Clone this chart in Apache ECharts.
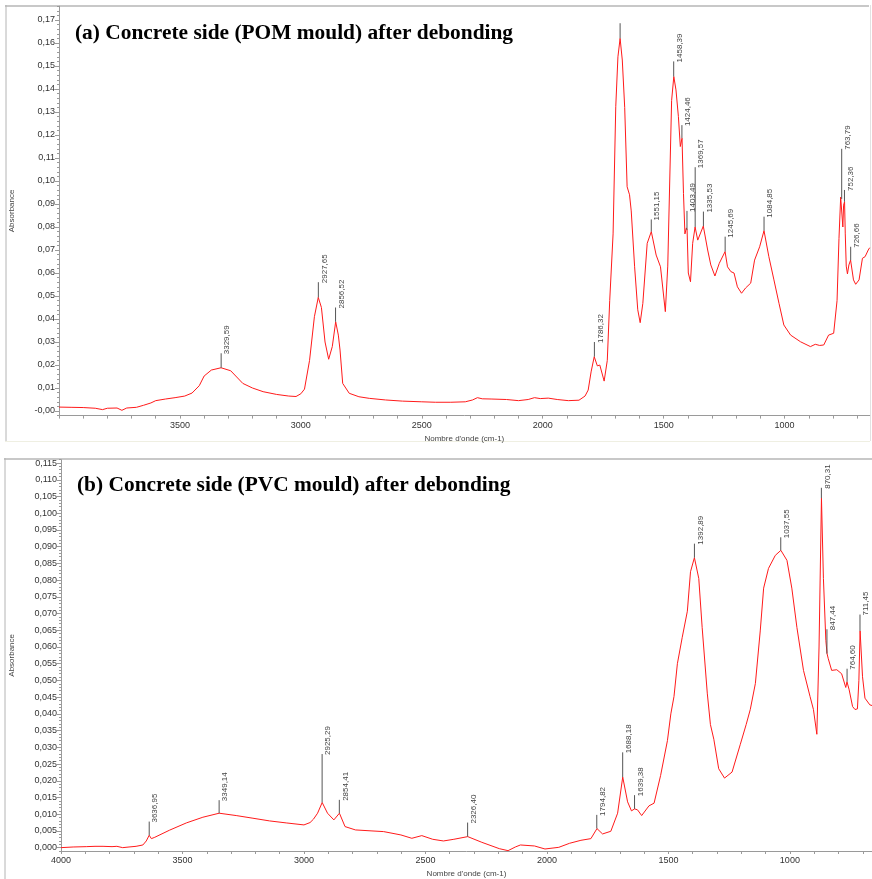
<!DOCTYPE html>
<html>
<head>
<meta charset="utf-8">
<script src="https://cdn.jsdelivr.net/npm/echarts@6/dist/echarts.min.js"></script>
<style>html,body{margin:0;padding:0;background:#fff;}#c{width:872px;height:879px;}</style>
</head>
<body>
<div id="c"></div>
<script>
// ---------- Panel (a): POM mould ----------
const topTitle = "(a) Concrete side (POM mould) after debonding";
const topWn = [4000,3950,3900,3850,3820,3800,3760,3740,3720,3680,3650,3620,3600,3560,3520,3480,3450,3420,3400,3370,3330,3290,3240,3200,3156,3100,3050,3020,3000,2985,2964,2944,2928,2915,2900,2885,2870,2856,2845,2838,2827,2800,2760,2717,2650,2580,2500,2444,2380,2320,2290,2270,2250,2210,2150,2100,2060,2034,2010,1977,1940,1894,1850,1825,1812,1800,1787,1774,1764,1746,1733,1723,1709,1698,1689,1680,1671,1661,1651,1641,1634,1620,1607,1597,1586,1568,1551,1531,1513,1493,1483,1477,1467,1458,1449,1439,1431,1424,1418,1412,1406,1403,1398,1389,1380,1370,1359,1352,1336,1318,1305,1288,1270,1246,1236,1222,1209,1195,1178,1161,1140,1124,1103,1085,1065,1044,1023,1003,975,934,893,873,855,838,818,797,783,775,768,764,759,756,752,749,745,740,734,727,715,706,692,678,667,654,648];
const topAbs = [0.0017,0.0016,0.0015,0.0012,0.0006,0.0012,0.0013,0.0003,0.0013,0.0016,0.0025,0.0035,0.0045,0.0052,0.0058,0.0065,0.0078,0.011,0.0152,0.0178,0.0188,0.0175,0.012,0.0100,0.0084,0.0072,0.0065,0.0063,0.0075,0.0095,0.022,0.041,0.0494,0.045,0.030,0.0225,0.028,0.0388,0.033,0.0265,0.012,0.0077,0.0062,0.0055,0.0048,0.0043,0.0040,0.0038,0.0038,0.0040,0.0048,0.0058,0.0053,0.0052,0.0050,0.0045,0.0050,0.0058,0.0054,0.0056,0.0050,0.0045,0.0047,0.0065,0.0091,0.017,0.0236,0.0196,0.0200,0.0130,0.022,0.048,0.077,0.1323,0.154,0.162,0.1526,0.132,0.0975,0.094,0.087,0.0627,0.044,0.0384,0.0468,0.0729,0.078,0.0678,0.0627,0.0432,0.063,0.09,0.135,0.1454,0.1396,0.128,0.115,0.1186,0.0946,0.077,0.0796,0.0787,0.060,0.0562,0.0729,0.080,0.0743,0.0736,0.0804,0.070,0.0635,0.0587,0.0642,0.0693,0.0627,0.0606,0.060,0.054,0.0512,0.0535,0.0556,0.0656,0.0714,0.0784,0.0671,0.057,0.0468,0.0374,0.033,0.0301,0.028,0.029,0.0285,0.0287,0.033,0.0338,0.048,0.075,0.093,0.0922,0.080,0.0895,0.091,0.077,0.063,0.0596,0.0635,0.0656,0.057,0.0551,0.057,0.0664,0.0671,0.070,0.071];
const topPeakWn    = [3329.59,2927.65,2856.52,1786.32,1680,1551.15,1458.39,1424.46,1403.49,1369.57,1335.53,1245.69,1084.85,763.79,752.36,726.66];
const topPeakAbs   = [0.0188,0.0494,0.0388,0.0236,0.162,0.078,0.1454,0.1186,0.0787,0.080,0.0804,0.0693,0.0784,0.0922,0.091,0.0656];
const topPeakTop   = [0.0251,0.056,0.045,0.030,0.1686,0.0833,0.152,0.1243,0.087,0.106,0.0867,0.0758,0.0845,0.114,0.0961,0.0714];
const topPeakLabel = ["3329,59","2927,65","2856,52","1786,32","","1551,15","1458,39","1424,46","1403,49","1369,57","1335,53","1245,69","1084,85","763,79","752,36","726,66"];
const topYTicks = [0,0.01,0.02,0.03,0.04,0.05,0.06,0.07,0.08,0.09,0.10,0.11,0.12,0.13,0.14,0.15,0.16,0.17];
const topXTicks = [1000,1500,2000,2500,3000,3500];

// ---------- Panel (b): PVC mould ----------
const botTitle = "(b) Concrete side (PVC mould) after debonding";
const botWn = [4000,3950,3896,3860,3827,3790,3770,3746,3720,3691,3663,3649,3637,3628,3614,3554,3484,3416,3349,3279,3210,3142,3073,3000,2975,2961,2944,2925,2903,2877,2854,2831,2788,2720,2672,2601,2556,2515,2470,2426,2383,2326,2268,2196,2160,2130,2109,2051,2008,1951,1907,1860,1819,1794,1771,1737,1709,1688,1668,1652,1639,1627,1610,1580,1559,1532,1504,1490,1477,1463,1443,1422,1409,1393,1375,1361,1340,1327,1313,1293,1269,1238,1204,1180,1163,1142,1122,1108,1088,1060,1037,1012,992,971,944,917,903,889,880,870,862,852,847,842,828,807,787,770,765,756,742,732,722,716,711,701,691,671,662];
const botAbs = [0.0000,0.0002,0.0003,0.0004,0.0004,0.0003,0.0004,0.0000,0.0002,0.0004,0.0008,0.0020,0.0037,0.0027,0.0031,0.0052,0.0074,0.0091,0.0103,0.0096,0.0088,0.0080,0.0074,0.0068,0.0075,0.0085,0.0103,0.0135,0.0103,0.0083,0.0103,0.0063,0.0053,0.0050,0.0048,0.0038,0.0028,0.0036,0.0025,0.0020,0.0025,0.0033,0.0016,-0.0003,-0.0009,0.0002,0.0008,0.0005,-0.0004,0.0001,0.0013,0.0022,0.0027,0.0057,0.0041,0.0049,0.0103,0.0211,0.0137,0.0110,0.0116,0.0113,0.0096,0.0125,0.0133,0.0216,0.032,0.040,0.0452,0.055,0.0629,0.0707,0.0825,0.0867,0.0805,0.0658,0.0462,0.0368,0.0324,0.0236,0.0208,0.0226,0.0309,0.0368,0.0413,0.0491,0.0648,0.0776,0.0835,0.0874,0.0889,0.0859,0.0776,0.0658,0.053,0.0452,0.0413,0.0339,0.060,0.1045,0.0805,0.062,0.058,0.0565,0.053,0.0532,0.052,0.0479,0.0496,0.0472,0.0422,0.0413,0.0415,0.050,0.0648,0.0511,0.0447,0.0427,0.0425];
const botPeakWn    = [3636.95,3349.14,2925.29,2854.41,2326.40,1794.82,1688.18,1639.38,1392.89,1037.55,870.31,847.44,764.60,711.45];
const botPeakAbs   = [0.0037,0.0103,0.0135,0.0103,0.0033,0.0057,0.0211,0.0116,0.0867,0.0889,0.1045,0.058,0.0496,0.0648];
const botPeakTop   = [0.0078,0.0142,0.028,0.0143,0.0075,0.0098,0.0285,0.0157,0.0909,0.0928,0.1076,0.0653,0.0535,0.0697];
const botPeakLabel = ["3636,95","3349,14","2925,29","2854,41","2326,40","1794,82","1688,18","1639,38","1392,89","1037,55","870,31","847,44","764,60","711,45"];
const botYTicks = [0,0.005,0.010,0.015,0.020,0.025,0.030,0.035,0.040,0.045,0.050,0.055,0.060,0.065,0.070,0.075,0.080,0.085,0.090,0.095,0.100,0.105,0.110,0.115];
const botXTicks = [1000,1500,2000,2500,3000,3500,4000];

// ---------- helpers ----------
function range(a, b, s) { const r = []; const n = Math.round((b - a) / s); for (let i = 0; i <= n; i++) r.push(+(a + i * s).toFixed(6)); return r; }
const FONT = 'Liberation Sans';
const topYMinor = range(-0.002, 0.176, 0.002);
const botYMinor = range(-0.001, 0.116, 0.001);
const topXMinor = range(700, 4000, 100);
const botXMinor = range(700, 4000, 100);

function xAxisCfg(grid, min, ticks, minor) {
  return {
    gridIndex: grid, type: 'value', inverse: true, min: min, max: 4000, position: 'bottom',
    axisLine: { show: true, onZero: false, lineStyle: { color: '#9a9a9a', width: 1 } },
    axisTick: { show: true, customValues: minor, length: 3, lineStyle: { color: '#9a9a9a' } },
    axisLabel: { customValues: ticks, formatter: v => String(Math.round(v)), fontSize: 9, color: '#333', margin: 5, fontFamily: FONT },
    splitLine: { show: false },
    name: "Nombre d'onde (cm-1)", nameLocation: 'middle', nameGap: 19,
    nameTextStyle: { fontSize: 8, color: '#444', fontFamily: FONT }
  };
}
function yAxisCfg(grid, min, max, ticks, fmt, gap) {
  return {
    gridIndex: grid, type: 'value', min: min, max: max, position: 'left',
    axisLine: { show: true, onZero: false, lineStyle: { color: '#9a9a9a', width: 1 } },
    axisTick: { show: true, customValues: ticks, length: 4, lineStyle: { color: '#9a9a9a' } },
    axisLabel: { customValues: ticks, formatter: fmt, fontSize: 9, color: '#333', margin: 4, fontFamily: FONT },
    splitLine: { show: false },
    name: 'Absorbance', nameLocation: 'middle', nameGap: gap, nameRotate: 90,
    nameTextStyle: { fontSize: 8, color: '#444', fontFamily: FONT }
  };
}
function yMinorCfg(grid, min, max, minor) {
  return {
    gridIndex: grid, type: 'value', min: min, max: max, position: 'left', offset: 0,
    axisLine: { show: false, onZero: false },
    axisTick: { show: true, customValues: minor, length: 2, lineStyle: { color: '#9a9a9a' } },
    axisLabel: { show: false }, splitLine: { show: false }
  };
}
function peakSeries(xi, yi, wn, ab, tp, lab) {
  return {
    type: 'custom', xAxisIndex: xi, yAxisIndex: yi, clip: false, silent: true, z: 3,
    data: wn.map((w, i) => [w, ab[i], tp[i]]),
    encode: { x: 0, y: [1, 2] },
    renderItem: function (params, api) {
      const p1 = api.coord([api.value(0), api.value(1)]);
      const p2 = api.coord([api.value(0), api.value(2)]);
      const t = lab[params.dataIndex];
      return {
        type: 'group',
        children: [
          { type: 'line', shape: { x1: p1[0], y1: p1[1], x2: p2[0], y2: p2[1] }, style: { stroke: '#555', lineWidth: 1 } },
          { type: 'text', x: p2[0] + 2, y: p2[1] + 1, rotation: Math.PI / 2,
            style: { text: t, fill: '#444', font: '8px ' + FONT, align: 'left', verticalAlign: 'top' } }
        ]
      };
    }
  };
}
function lineSeries(xi, yi, wn, ab) {
  return {
    type: 'line', xAxisIndex: xi, yAxisIndex: yi, showSymbol: false, symbol: 'none',
    data: wn.map((w, i) => [w, ab[i]]),
    lineStyle: { color: '#ff1a1a', width: 1 }, z: 2, animation: false
  };
}

const chart = echarts.init(document.getElementById('c'), null, { renderer: 'canvas' });
chart.setOption({
  animation: false,
  backgroundColor: '#ffffff',
  grid: [
    { left: 55.7, width: 814, top: 6.2, height: 409.4 },
    { left: 58, width: 814, top: 459.7, height: 397 }
  ],
  xAxis: [
    xAxisCfg(0, 648, topXTicks, topXMinor),
    xAxisCfg(1, 662, botXTicks, botXMinor)
  ],
  yAxis: [
    yAxisCfg(0, -0.002, 0.176, topYTicks, v => Math.abs(v) < 1e-9 ? '-0,00' : v.toFixed(2).replace('.', ','), 43),
    yAxisCfg(1, -0.001, 0.116, botYTicks, v => v.toFixed(3).replace('.', ','), 45),
    yMinorCfg(0, -0.002, 0.176, topYMinor),
    yMinorCfg(1, -0.001, 0.116, botYMinor)
  ],
  graphic: [
    { type: 'line', shape: { x1: 5, y1: 6, x2: 869, y2: 6 }, style: { stroke: '#c8c8c8', lineWidth: 2 }, silent: true },
    { type: 'line', shape: { x1: 6, y1: 5, x2: 6, y2: 441 }, style: { stroke: '#b4b4b4', lineWidth: 1 }, silent: true },
    { type: 'line', shape: { x1: 5, y1: 441.5, x2: 870, y2: 441.5 }, style: { stroke: '#efefe2', lineWidth: 1 }, silent: true },
    { type: 'line', shape: { x1: 870.5, y1: 5, x2: 870.5, y2: 441 }, style: { stroke: '#e2e2e2', lineWidth: 1 }, silent: true },
    { type: 'line', shape: { x1: 4, y1: 459, x2: 872, y2: 459 }, style: { stroke: '#c8c8c8', lineWidth: 2 }, silent: true },
    { type: 'line', shape: { x1: 5, y1: 458, x2: 5, y2: 879 }, style: { stroke: '#b4b4b4', lineWidth: 1 }, silent: true },
    { type: 'text', x: 75, y: 33.5, style: { text: topTitle, font: 'bold 21.4px "Liberation Serif"', fill: '#000', verticalAlign: 'middle' }, silent: true, z: 10 },
    { type: 'text', x: 77, y: 485.5, style: { text: botTitle, font: 'bold 21.4px "Liberation Serif"', fill: '#000', verticalAlign: 'middle' }, silent: true, z: 10 }
  ],
  series: [
    lineSeries(0, 0, topWn, topAbs),
    peakSeries(0, 0, topPeakWn, topPeakAbs, topPeakTop, topPeakLabel),
    lineSeries(1, 1, botWn, botAbs),
    peakSeries(1, 1, botPeakWn, botPeakAbs, botPeakTop, botPeakLabel)
  ]
});
</script>
</body>
</html>
